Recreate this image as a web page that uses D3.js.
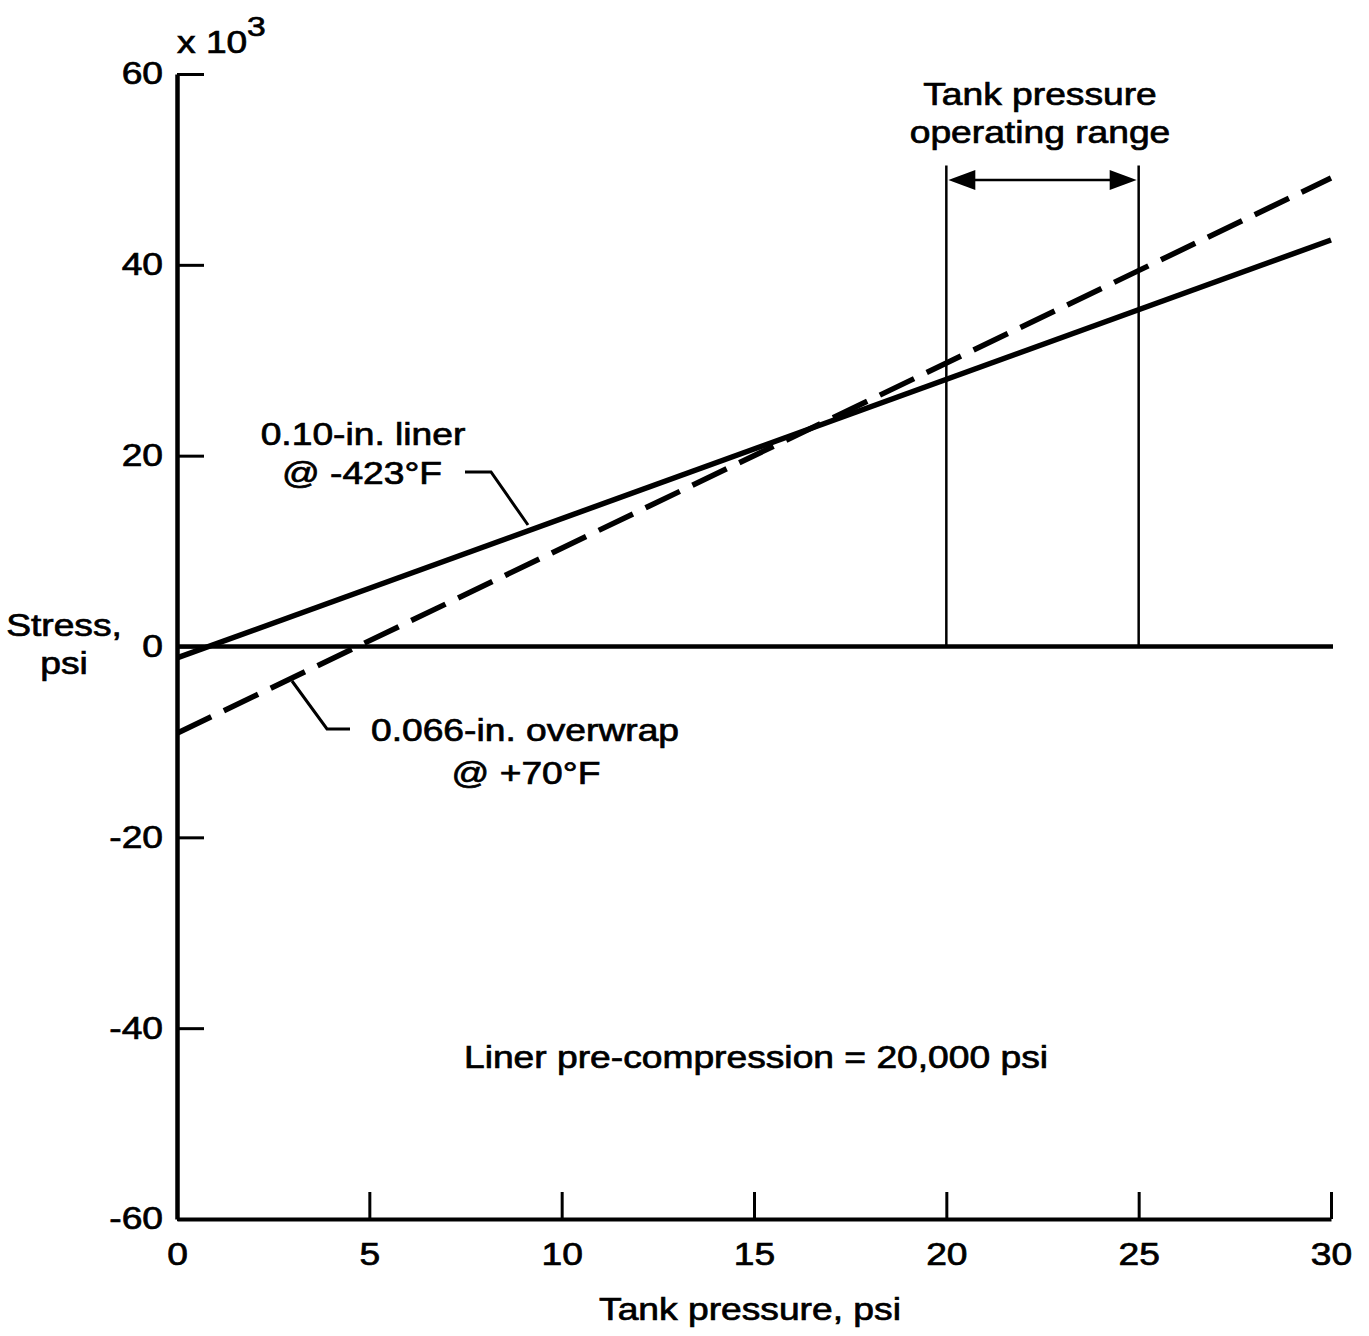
<!DOCTYPE html>
<html>
<head>
<meta charset="utf-8">
<script src="https://cdn.jsdelivr.net/npm/d3@7"></script>
<style>
  body { margin: 0; background: #fff; }
  svg text { font-family: "Liberation Sans", Arial, Helvetica, sans-serif; fill: #000; stroke: #000; stroke-width: 0.7px; }
</style>
</head>
<body>
<svg width="1369" height="1336"></svg>
<script>
// --- Data (stress in thousands of psi) ---
const pressure = [0, 30];
const linerStress = [-1.2, 42.6];      // 0.10-in. liner @ -423F
const overwrapStress = [-9.1, 49.1];   // 0.066-in. overwrap @ +70F
const xTicks = [0, 5, 10, 15, 20, 25, 30];
const yTicks = [-60, -40, -20, 0, 20, 40, 60];
const rangeLow = 20, rangeHigh = 25;
const arrowStress = 48.9;
const rangeTop = 50.4;

// --- Setup ---
const svg = d3.select("svg");
const FS = 31, SX = 1.2; // font size, horizontal stretch of the lettering

const x = d3.scaleLinear().domain([0, 30]).range([177, 1331]);
const y = d3.scaleLinear().domain([-60, 60]).range([1219, 74]);

function label(px, py, str, anchor) {
  return svg.append("text")
    .attr("transform", `translate(${px},${py}) scale(${SX},1)`)
    .attr("text-anchor", anchor || "middle")
    .attr("font-size", FS + "px")
    .text(str);
}

// --- Axes ---
const yAxis = svg.append("g")
  .attr("transform", `translate(${x(0)},0)`)
  .call(d3.axisLeft(y).tickValues(yTicks).tickSize(-27).tickSizeOuter(0).tickPadding(14));
yAxis.select(".domain").attr("stroke-width", 4.5);
yAxis.selectAll(".tick line").attr("stroke-width", 3);
yAxis.selectAll(".tick text")
  .attr("font-size", FS + "px")
  .attr("x", -14 / SX)
  .attr("transform", `scale(${SX},1)`)
  .attr("font-family", null)
  .text(d => d);

const xAxis = svg.append("g")
  .attr("transform", `translate(0,${y(-60)})`)
  .call(d3.axisBottom(x).tickValues(xTicks).tickSize(-27).tickSizeOuter(0).tickPadding(24));
xAxis.select(".domain").attr("stroke-width", 4);
xAxis.selectAll(".tick line").attr("stroke-width", 3);
xAxis.selectAll(".tick text")
  .attr("font-size", FS + "px")
  .attr("transform", `scale(${SX},1)`)
  .attr("font-family", null);
svg.selectAll(".tick text").attr("fill", "#000");

// zero line
svg.append("line")
  .attr("x1", x(0)).attr("x2", x(30) + 2)
  .attr("y1", y(0)).attr("y2", y(0))
  .attr("stroke", "#000").attr("stroke-width", 4.5);

// --- Stress lines ---
const line = d3.line().x(d => x(d[0])).y(d => y(d[1]));
svg.append("path")
  .datum(pressure.map((p, i) => [p, linerStress[i]]))
  .attr("d", line)
  .attr("fill", "none").attr("stroke", "#000").attr("stroke-width", 5.5);
svg.append("path")
  .datum(pressure.map((p, i) => [p, overwrapStress[i]]))
  .attr("d", line)
  .attr("fill", "none").attr("stroke", "#000").attr("stroke-width", 5.5)
  .attr("stroke-dasharray", "38,14");

// --- Operating range ---
[rangeLow, rangeHigh].forEach(v => {
  svg.append("line")
    .attr("x1", x(v)).attr("x2", x(v))
    .attr("y1", y(0)).attr("y2", y(rangeTop))
    .attr("stroke", "#000").attr("stroke-width", 2.5);
});
const ay = y(arrowStress);
const xl = x(rangeLow) + 2, xr = x(rangeHigh) - 2;
svg.append("line")
  .attr("x1", xl + 20).attr("x2", xr - 20)
  .attr("y1", ay).attr("y2", ay)
  .attr("stroke", "#000").attr("stroke-width", 2.5);
svg.append("path")
  .attr("d", `M${xl},${ay}L${xl + 27},${ay - 10}L${xl + 27},${ay + 10}Z`)
  .attr("fill", "#000");
svg.append("path")
  .attr("d", `M${xr},${ay}L${xr - 27},${ay - 10}L${xr - 27},${ay + 10}Z`)
  .attr("fill", "#000");
label(1040, 105, "Tank pressure");
label(1040, 143, "operating range");

// --- Leaders and labels ---
svg.append("path")
  .attr("d", "M465,472H491L528,525")
  .attr("fill", "none").attr("stroke", "#000").attr("stroke-width", 3);
label(363, 445, "0.10-in. liner");
label(362, 484, "@ -423°F");

svg.append("path")
  .attr("d", "M292,681L327,729H350")
  .attr("fill", "none").attr("stroke", "#000").attr("stroke-width", 3);
label(525, 741, "0.066-in. overwrap");
label(526, 784, "@ +70°F");

label(756, 1068, "Liner pre-compression = 20,000 psi");

// --- Axis titles ---
label(750, 1320, "Tank pressure, psi");
label(64, 636, "Stress,");
label(64, 674, "psi");
label(177, 53, "x 10", "start");
svg.append("text")
  .attr("transform", `translate(247,36) scale(${SX},1)`)
  .attr("font-size", "28px")
  .text("3");
</script>
</body>
</html>
